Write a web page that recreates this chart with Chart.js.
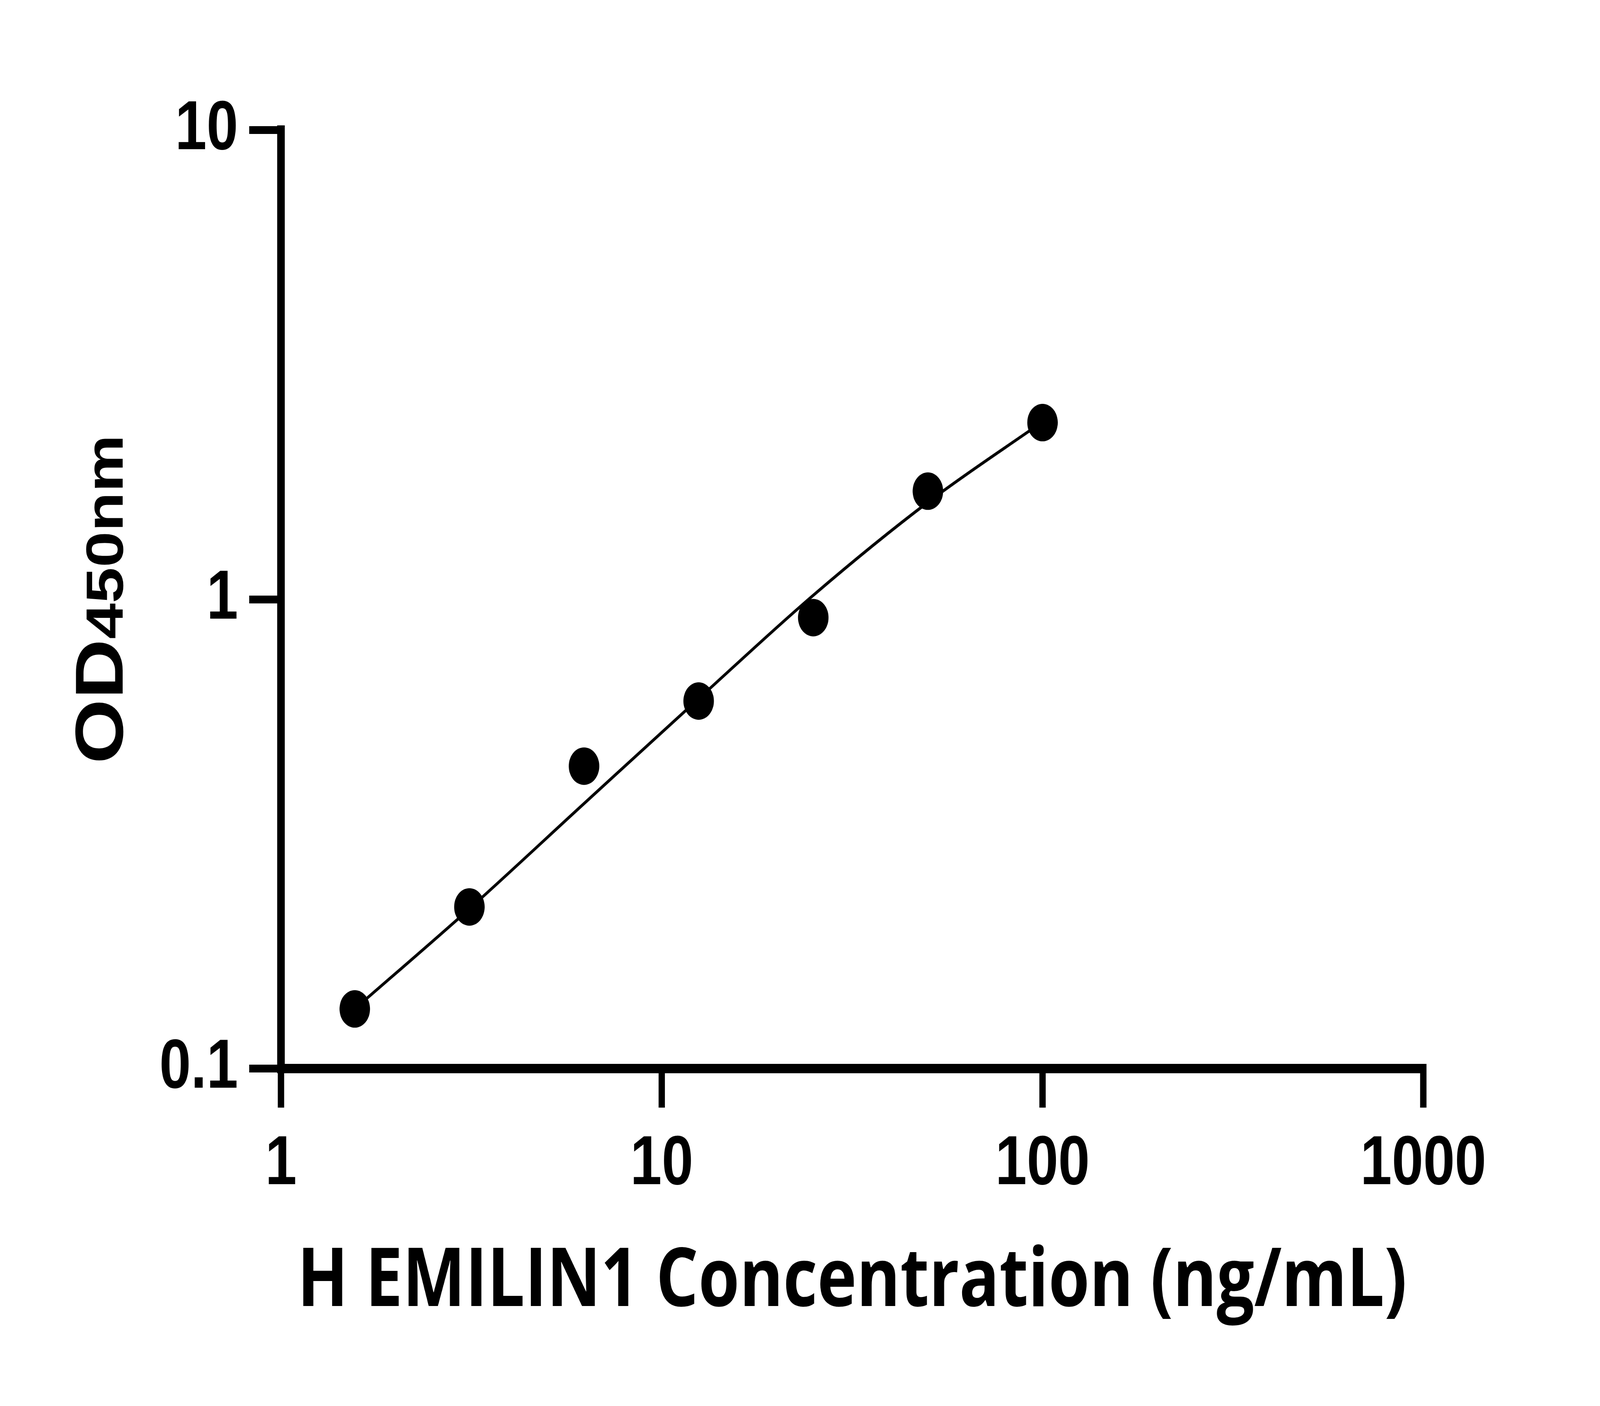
<!DOCTYPE html>
<html>
<head>
<meta charset="utf-8">
<script src="https://cdn.jsdelivr.net/npm/chart.js@4.4.1/dist/chart.umd.min.js"></script>
<style>
  html, body { margin: 0; padding: 0; background: #ffffff; overflow: hidden; }
</style>
</head>
<body>
<canvas id="c" width="5034" height="3600" style="width:100vw;height:100vh;display:block;"></canvas>
<script>
// ---- data ----
const concentrations = [1.5625, 3.125, 6.25, 12.5, 25, 50, 100];
const odValues = [0.134, 0.221, 0.441, 0.607, 0.914, 1.70, 2.38];
const fitValues = [0.134, 0.219, 0.367, 0.614, 1.02, 1.61, 2.39];
const xTickValues = [1, 10, 100, 1000];
const xTickLabels = ['1', '10', '100', '1000'];
const yTickValues = [0.1, 1, 10];
const yTickLabels = ['0.1', '1', '10'];
const xTitle = 'H EMILIN1 Concentration (ng/mL)';
const yTitleMain = 'OD';
const yTitleSub = '450nm';

const pointData = concentrations.map((x, i) => ({ x: x, y: odValues[i] }));
const fitData = concentrations.map((x, i) => ({ x: x, y: fitValues[i] }));

const tickFont = { family: 'Liberation Sans, Arial, sans-serif', size: 178, weight: 'bold' };

function labelFor(values, labels, v) {
  for (let i = 0; i < values.length; i++) {
    if (Math.abs(values[i] - v) < 1e-9 * Math.max(1, values[i])) return labels[i];
  }
  return '';
}

const yTitlePlugin = {
  id: 'yTitle',
  afterDraw(chart) {
    const ctx = chart.ctx;
    const area = chart.chartArea;
    const cx = area.left - 498;
    const cy = (area.top + area.bottom) / 2;
    ctx.save();
    ctx.fillStyle = '#000';
    ctx.textBaseline = 'alphabetic';
    ctx.textAlign = 'left';
    const f1 = 'bold 213px "Liberation Sans", Arial, sans-serif';
    const f2 = 'bold 165px "Liberation Sans", Arial, sans-serif';
    ctx.font = f1; const w1 = ctx.measureText(yTitleMain).width;
    ctx.font = f2; const w2 = ctx.measureText(yTitleSub).width;
    const total = w1 + w2;
    ctx.translate(cx, cy);
    ctx.rotate(-Math.PI / 2);
    ctx.font = f1;
    ctx.fillText(yTitleMain, -total / 2, 0);
    ctx.font = f2;
    ctx.fillText(yTitleSub, -total / 2 + w1, 0);
    ctx.restore();
  }
};

new Chart(document.getElementById('c'), {
  type: 'scatter',
  data: {
    datasets: [
      {
        label: 'OD',
        data: pointData,
        showLine: false,
        pointRadius: 48,
        pointHoverRadius: 48,
        pointBackgroundColor: '#000',
        pointBorderColor: '#000',
        pointBorderWidth: 0,
        order: 0
      },
      {
        label: 'Fit',
        data: fitData,
        showLine: true,
        pointRadius: 0,
        borderColor: '#000',
        borderWidth: 8,
        cubicInterpolationMode: 'monotone',
        fill: false,
        order: 1
      }
    ]
  },
  options: {
    responsive: false,
    animation: false,
    devicePixelRatio: 1,
    layout: { padding: { top: 333, right: 556, left: 0, bottom: 0 } },
    plugins: {
      legend: { display: false },
      tooltip: { enabled: false },
      title: { display: false }
    },
    scales: {
      x: {
        type: 'logarithmic',
        min: 1,
        max: 1000,
        afterBuildTicks: (scale) => { scale.ticks = xTickValues.map(v => ({ value: v })); },
        afterFit: (scale) => { scale.height = 864; },
        grid: {
          display: true,
          drawOnChartArea: false,
          drawTicks: true,
          tickLength: 100,
          tickWidth: 20,
          lineWidth: 20,
          tickColor: '#000',
          color: '#000'
        },
        border: { display: true, width: 24, color: '#000' },
        ticks: {
          autoSkip: false,
          maxRotation: 0,
          padding: 40,
          color: '#000',
          font: tickFont,
          callback: (v) => labelFor(xTickValues, xTickLabels, v)
        },
        title: {
          display: true,
          text: xTitle,
          color: '#000',
          font: { family: '"Open Sans", sans-serif', size: 209, weight: 'bold', lineHeight: 1.2 },
          padding: { top: 0, bottom: 190 }
        }
      },
      y: {
        type: 'logarithmic',
        min: 0.1,
        max: 10,
        afterBuildTicks: (scale) => { scale.ticks = yTickValues.map(v => ({ value: v })); },
        afterFit: (scale) => { scale.width = 884; },
        grid: {
          display: true,
          drawOnChartArea: false,
          drawTicks: true,
          tickLength: 100,
          tickWidth: 20,
          lineWidth: 20,
          tickColor: '#000',
          color: '#000'
        },
        border: { display: true, width: 24, color: '#000' },
        ticks: {
          autoSkip: false,
          padding: 35,
          color: '#000',
          font: tickFont,
          callback: (v) => labelFor(yTickValues, yTickLabels, v)
        },
        title: { display: false }
      }
    }
  },
  plugins: [yTitlePlugin]
});
</script>
</body>
</html>
